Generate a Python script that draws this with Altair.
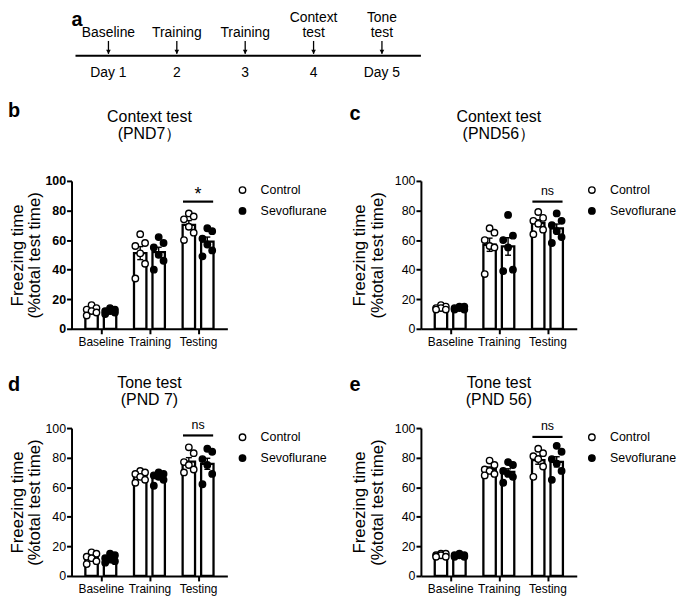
import altair as alt
import pandas as pd

FONT = "Liberation Sans"

phases = ["Baseline", "Training", "Testing"]
groups = ["Control", "Sevoflurane"]
y_ticks = [0, 20, 40, 60, 80, 100]

# Panel a: protocol timeline
days = [1, 2, 3, 4, 5]
day_labels = ["Day 1", "2", "3", "4", "Day 5"]
event_line1 = ["", "", "", "Context", "Tone"]
event_line2 = ["Baseline", "Training", "Training", "test", "test"]

panel_letters = ["a", "b", "c", "d", "e"]
title_line1 = ["Context test", "Context test", "Tone test", "Tone test"]
title_line2 = ["(PND7）", "(PND56）", "(PND 7)", "(PND 56)"]

# Six animals per group, blocks of six: Baseline, Training, Testing
ctx7_control = [16, 14, 13, 12, 11, 9, 64, 58, 56, 51, 44, 34, 78, 76, 74, 69, 65, 60]
ctx7_sevo = [14, 13, 12, 12, 11, 10, 62, 58, 55, 50, 46, 40, 68, 66, 61, 57, 53, 49]
ctx56_control = [16, 15, 14, 14, 13, 13, 68, 65, 60, 56, 55, 37, 79, 75, 73, 71, 67, 64]
ctx56_sevo = [15, 15, 14, 14, 13, 13, 77, 63, 60, 55, 40, 39, 78, 73, 70, 66, 62, 58]
tone7_control = [16, 15, 13, 12, 10, 8, 71, 70, 69, 67, 65, 63, 87, 83, 77, 75, 72, 70]
tone7_sevo = [15, 14, 12, 11, 10, 9, 70, 69, 68, 67, 65, 61, 86, 84, 79, 75, 69, 62]
tone56_control = [15, 15, 14, 14, 13, 13, 78, 75, 72, 71, 69, 68, 86, 83, 81, 79, 74, 67]
tone56_sevo = [15, 14, 14, 14, 13, 13, 77, 75, 71, 69, 67, 63, 88, 84, 79, 76, 71, 65]

sig_labels = ["*", "ns", "ns", "ns"]
sig_heights = [86, 86, 95, 94]

W, H = 157, 149


def make_panel(i, ctrl, sevo, bold, letter_dx, letter_dy, title_dy, ytitle_pad):
    rows = []
    for g, vals in zip(groups, (ctrl, sevo)):
        for k, v in enumerate(vals):
            rows.append({"phase": phases[k // 6], "idx": k // 6, "group": g, "value": v})
    df = pd.DataFrame(rows)

    label_expr = "[" + ",".join("'%s'" % p for p in phases) + "][datum.value]"
    xs = alt.Scale(domain=[-0.5, len(phases) - 0.5], nice=False, zero=False)
    ys = alt.Scale(domain=[0, 100], nice=False)
    x_axis = alt.Axis(
        values=list(range(len(phases))), labelExpr=label_expr, title=None, grid=False,
        tickSize=5, tickWidth=2, tickColor="black", domainColor="black", domainWidth=2,
        labelFont=FONT, labelFontSize=12, labelColor="black", labelPadding=3,
        labelFontWeight="normal", labelOverlap=False,
    )
    y_axis = alt.Axis(
        values=y_ticks, title=["Freezing time", "(%total test time)"], grid=False,
        tickSize=5, tickWidth=2, tickColor="black", domainColor="black", domainWidth=2,
        labelFont=FONT, labelFontSize=12.5, labelColor="black", labelPadding=1,
        labelFontWeight="bold" if bold else "normal",
        titleFont=FONT, titleFontSize=17, titleFontWeight="normal", titleColor="black",
        titleLineHeight=18, titlePadding=ytitle_pad,
    )
    pos_expr = "datum.idx + (datum.group === 'Control' ? -0.19 : 0.19)"

    base = alt.Chart(df)
    stats = base.transform_aggregate(
        mean="mean(value)", sem="stderr(value)", groupby=["idx", "group"]
    ).transform_calculate(
        pos=pos_expr, lo="datum.mean - datum.sem", hi="datum.mean + datum.sem"
    )
    X = lambda f: alt.X(f, scale=xs, axis=x_axis)
    Y = lambda f: alt.Y(f, scale=ys, axis=y_axis)

    bars = stats.mark_bar(size=12.5, fill="white", stroke="black", strokeWidth=2.3,
                          orient="vertical").encode(x=X("pos:Q"), y=Y("mean:Q"))
    err = stats.mark_rule(color="black", strokeWidth=1.4).encode(
        x=X("pos:Q"), y=Y("lo:Q"), y2="hi:Q")
    cap_hi = stats.mark_tick(orient="horizontal", size=6, thickness=1.4, color="black",
                             opacity=1).encode(x=X("pos:Q"), y=Y("hi:Q"))
    cap_lo = stats.mark_tick(orient="horizontal", size=6, thickness=1.4, color="black",
                             opacity=1).encode(x=X("pos:Q"), y=Y("lo:Q"))

    pts = base.transform_window(
        rn="row_number()", groupby=["idx", "group"],
        sort=[alt.SortField("value", order="descending")],
    ).transform_calculate(pos=pos_expr).transform_calculate(
        jx="datum.pos + ((datum.rn % 3) - 1) * 0.1"
    ).mark_circle(size=42, stroke="black", strokeWidth=1.4, opacity=1).encode(
        x=X("jx:Q"), y=Y("value:Q"),
        fill=alt.Fill(
            "group:N", scale=alt.Scale(domain=groups, range=["white", "black"]),
            legend=alt.Legend(
                title=None, orient="none", legendX=W + 9, legendY=3, padding=0,
                symbolType="circle", symbolSize=42, symbolStrokeColor="black",
                symbolStrokeWidth=1.4, labelFont=FONT, labelFontSize=12.5,
                labelColor="black", labelOffset=12, rowPadding=8,
            ),
        ),
    )

    sig_df = pd.DataFrame({"idx": [phases.index("Testing")], "label": [sig_labels[i]],
                           "height": [sig_heights[i]]})
    sig_base = alt.Chart(sig_df).transform_calculate(
        xa="datum.idx - 0.31", xb="datum.idx + 0.31")
    sig_rule = sig_base.mark_rule(color="black", strokeWidth=2.2).encode(
        x=X("xa:Q"), x2="xb:Q", y=Y("height:Q"))
    star = sig_labels[i] == "*"
    sig_text = sig_base.mark_text(
        font=FONT, fontSize=18 if star else 12.5, baseline="alphabetic",
        dy=-2 if star else -6.5, color="black",
    ).encode(x=X("idx:Q"), y=Y("height:Q"), text="label:N")

    head_df = pd.DataFrame({"letter": [panel_letters[i + 1]], "t1": [title_line1[i]],
                            "t2": [title_line2[i]]})
    head = alt.Chart(head_df)
    letter = head.mark_text(
        font=FONT, fontSize=20, fontWeight="bold", align="left", baseline="alphabetic",
        color="black",
    ).encode(text="letter:N", x=alt.value(letter_dx), y=alt.value(letter_dy))
    tstyle = dict(font=FONT, fontSize=16, align="center", baseline="alphabetic",
                  color="black")
    tt1 = head.mark_text(**tstyle).encode(text="t1:N", x=alt.value(W / 2),
                                          y=alt.value(title_dy - 17))
    tt2 = head.mark_text(**tstyle).encode(text="t2:N", x=alt.value(W / 2),
                                          y=alt.value(title_dy))

    return alt.layer(bars, err, cap_hi, cap_lo, pts, sig_rule, sig_text, letter, tt1,
                     tt2).properties(width=W, height=H)


# Panel a
tl_df = pd.DataFrame({"day": days, "label": day_labels, "top1": event_line1,
                      "top2": event_line2})
xs_a = alt.Scale(domain=[0.46, 5.57], nice=False, zero=False)
xa = alt.X("day:Q", scale=xs_a, axis=None)
base_a = alt.Chart(tl_df)
timeline = alt.Chart(pd.DataFrame({"k": [0]})).mark_rule(color="black", strokeWidth=2).encode(
    x=alt.value(4), x2=alt.value(352), y=alt.value(46))
stems = base_a.mark_rule(color="black", strokeWidth=1.3).encode(
    x=xa, y=alt.value(31), y2=alt.value(44))
heads = base_a.mark_point(shape="triangle-down", filled=True, size=22, color="black",
                          opacity=1).encode(x=xa, y=alt.value(42))
txt = dict(font=FONT, fontSize=14, baseline="alphabetic", color="black")
t1 = base_a.mark_text(**txt).encode(x=xa, y=alt.value(11.5), text="top1:N")
t2 = base_a.mark_text(**txt).encode(x=xa, y=alt.value(27), text="top2:N")
tb = base_a.mark_text(**txt).encode(x=xa, y=alt.value(67), text="label:N")
letter_a = alt.Chart(pd.DataFrame({"letter": [panel_letters[0]]})).mark_text(
    font=FONT, fontSize=20, fontWeight="bold", align="left", baseline="alphabetic",
    color="black").encode(text="letter:N", x=alt.value(0), y=alt.value(16))
panel_a = alt.layer(timeline, stems, heads, t1, t2, tb, letter_a).properties(width=352, height=72)

pb = make_panel(0, ctx7_control, ctx7_sevo, True, -64, -64, -42, 1)
pc = make_panel(1, ctx56_control, ctx56_sevo, False, -72, -61, -42, 8)
pd_ = make_panel(2, tone7_control, tone7_sevo, False, -64, -37, -23, 1)
pe = make_panel(3, tone56_control, tone56_sevo, False, -72, -37, -23, 8)

grid = alt.concat(
    pb, pc, pd_, pe, columns=2, spacing={"row": 100, "column": 195}, bounds="flush"
).resolve_scale(fill="independent").resolve_legend(fill="independent")

chart = alt.vconcat(panel_a, grid, spacing=20).resolve_scale(
    fill="independent").resolve_legend(fill="independent").properties(
    padding=0, background="white").configure_view(stroke=None)

chart.save("out.html", embed_options={"renderer": "svg", "actions": False})
